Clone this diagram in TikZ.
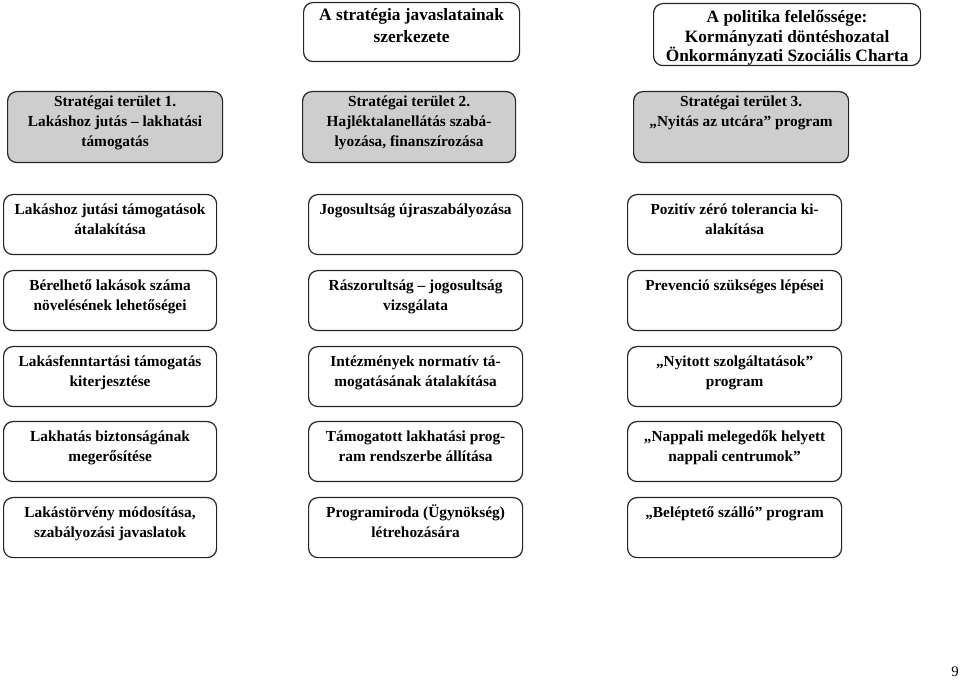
\documentclass[tikz,border=0pt]{standalone}
\usepackage{fontspec}
\setmainfont{Liberation Serif}
\tikzset{
  rbox/.style={draw=black!85, line width=0.9pt, rounded corners=7pt, inner sep=0pt, anchor=north west, font=\bfseries},
  grbox/.style={rbox, fill=graybox},
  pagenum/.style={inner sep=0pt, font=\fontsize{11}{13}\selectfont}
}
\definecolor{graybox}{RGB}{206,206,206}
% #1 style, #2 name, #3 x, #4 y, #5 w, #6 h, #7 top pad (pt), #8 font size, #9 text
\newcommand\mkbox[9]{%
  \node[#1] (#2) at (#3,#4) {\parbox[c][\dimexpr #6pt*3/4\relax][t]{\dimexpr #5pt*3/4\relax}{\centering\vspace*{#7pt}#8\strut #9\par}};}
\newcommand\szA{\fontsize{13}{16}\selectfont}
\newcommand\szAA{\fontsize{13}{14.5}\selectfont}
\newcommand\szB{\fontsize{11.5}{15}\selectfont}
\begin{document}
\begin{tikzpicture}[x=0.75pt,y=-0.75pt]
\useasboundingbox (0,0) rectangle (960,680);
% top row
\mkbox{rbox}{top1}{303}{2}{216}{59}{2.6}{\szA}{A stratégia javaslatainak\\szerkezete}
\mkbox{rbox}{top2}{653}{3}{267}{62}{4.2}{\szAA}{A politika felelőssége:\\Kormányzati döntéshozatal\\Önkormányzati Szociális Charta}
% gray row
\mkbox{grbox}{area1}{7}{91}{215}{71}{0.6}{\szB}{Stratégai terület 1.\\Lakáshoz jutás – lakhatási\\támogatás}
\mkbox{grbox}{area2}{302}{91}{213}{71}{0.6}{\szB}{Stratégai terület 2.\\Hajléktalanellátás szabá-\\lyozása, finanszírozása}
\mkbox{grbox}{area3}{633}{91}{215}{71}{0.6}{\szB}{Stratégai terület 3.\\„Nyitás az utcára” program}
% column 1
\mkbox{rbox}{a1}{3}{194}{213}{60}{4.6}{\szB}{Lakáshoz jutási támogatások\\átalakítása}
\mkbox{rbox}{a2}{3}{270}{213}{60}{4.6}{\szB}{Bérelhető lakások száma\\növelésének lehetőségei}
\mkbox{rbox}{a3}{3}{346}{213}{60}{4.6}{\szB}{Lakásfenntartási támogatás\\kiterjesztése}
\mkbox{rbox}{a4}{3}{421}{213}{60}{4.6}{\szB}{Lakhatás biztonságának\\megerősítése}
\mkbox{rbox}{a5}{3}{497}{213}{60}{4.6}{\szB}{Lakástörvény módosítása,\\szabályozási javaslatok}
% column 2
\mkbox{rbox}{b1}{308}{194}{214}{60}{4.6}{\szB}{Jogosultság újraszabályozása}
\mkbox{rbox}{b2}{308}{270}{214}{60}{4.6}{\szB}{Rászorultság – jogosultság\\vizsgálata}
\mkbox{rbox}{b3}{308}{346}{214}{60}{4.6}{\szB}{Intézmények normatív tá-\\mogatásának átalakítása}
\mkbox{rbox}{b4}{308}{421}{214}{60}{4.6}{\szB}{Támogatott lakhatási prog-\\ram rendszerbe állítása}
\mkbox{rbox}{b5}{308}{497}{214}{60}{4.6}{\szB}{Programiroda (Ügynökség)\\létrehozására}
% column 3
\mkbox{rbox}{c1}{627}{194}{214}{60}{4.6}{\szB}{Pozitív zéró tolerancia ki-\\alakítása}
\mkbox{rbox}{c2}{627}{270}{214}{60}{4.6}{\szB}{Prevenció szükséges lépései}
\mkbox{rbox}{c3}{627}{346}{214}{60}{4.6}{\szB}{„Nyitott szolgáltatások”\\program}
\mkbox{rbox}{c4}{627}{421}{214}{60}{4.6}{\szB}{„Nappali melegedők helyett\\nappali centrumok”}
\mkbox{rbox}{c5}{627}{497}{214}{60}{4.6}{\szB}{„Beléptető szálló” program}
% page number
\node[pagenum] (page) at (955,672) {9};
\end{tikzpicture}
\end{document}
